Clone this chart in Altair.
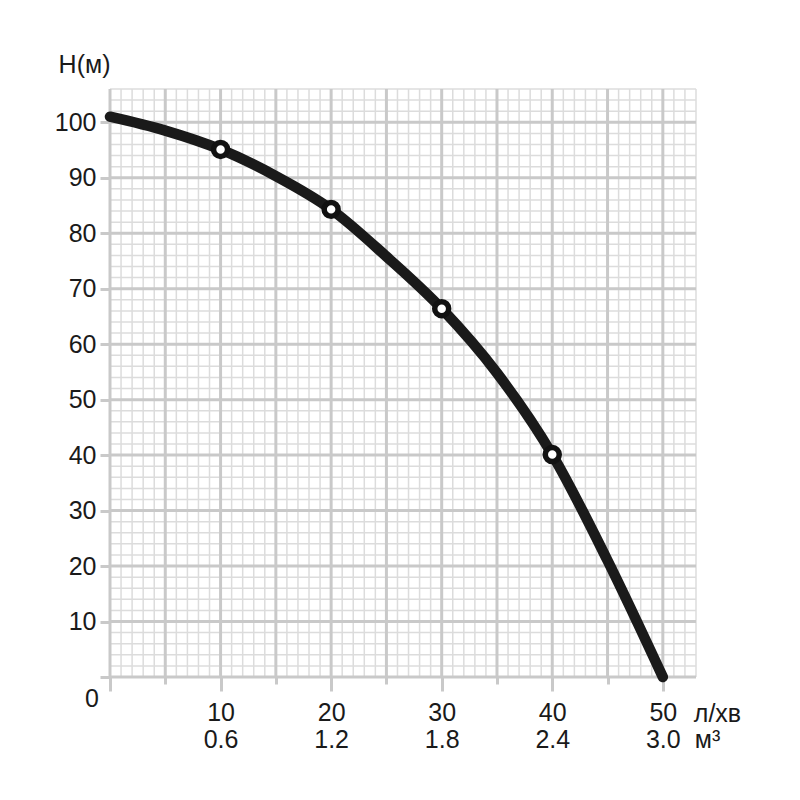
import altair as alt
import pandas as pd

# ---- data ----
flow = [0, 5, 10, 15, 20, 25, 30, 35, 40, 45, 50]          # л/хв
head = [101.0, 98.5, 95.1, 90.3, 84.3, 75.8, 66.4, 54.8, 40.1, 21.0, 0.0]  # H (м)
pt_flow = [10, 20, 30, 40]
pt_head = [95.1, 84.3, 66.4, 40.1]

x_ticks = [0, 5, 10, 15, 20, 25, 30, 35, 40, 45, 50]
y_ticks = [0, 10, 20, 30, 40, 50, 60, 70, 80, 90, 100]
lpm_labels = ["10", "20", "30", "40", "50"]
m3_labels = ["0.6", "1.2", "1.8", "2.4", "3.0"]
minor_x = list(range(0, 54))
minor_y = list(range(0, 107, 2))
x_max = 53
y_max = 106

FONT = "Liberation Sans"
FS = 25
TXT = "#1a1a1a"
MAJOR = "#c9c9c9"
MINOR = "#dcdcdc"

xs = alt.Scale(domain=[0, x_max], nice=False, zero=False)
ys = alt.Scale(domain=[0, y_max], nice=False, zero=False)

curve_df = pd.DataFrame({"q": flow, "h": head})
pts_df = pd.DataFrame({"q": pt_flow, "h": pt_head})

parts = []
for a, b in zip(lpm_labels, m3_labels):
    parts.append(f"datum.value == {a} ? ['{a}', '{b}']")
x_label_expr = " : ".join(parts) + " : ''"

x_axis = alt.Axis(
    values=x_ticks, grid=False, domain=False, title=None,
    tickColor=MAJOR, tickWidth=3,
    tickSize={"condition": {"test": "datum.value % 10 === 0", "value": 14}, "value": 7},
    labelExpr=x_label_expr, labelFont=FONT, labelFontSize=FS, labelColor=TXT,
    labelLineHeight=27, labelBaseline="top", labelPadding=9, labelFlush=False,
    labelOverlap=False,
)
y_axis = alt.Axis(
    values=y_ticks, grid=False, domain=False,
    title="H(м)", titleAngle=0, titleAlign="right", titleBaseline="alphabetic",
    titleX=0, titleY=-17, titleFont=FONT, titleFontSize=FS, titleFontWeight="normal",
    titleColor=TXT,
    tickColor=MAJOR, tickWidth=3, tickSize=10,
    labelExpr="datum.value == 0 ? '' : datum.label",
    labelFont=FONT, labelFontSize=FS, labelColor=TXT, labelPadding=4,
)

X = lambda: alt.X("q:Q", scale=xs, axis=x_axis)
Y = lambda: alt.Y("h:Q", scale=ys, axis=y_axis)

minor_x_layer = alt.Chart(pd.DataFrame({"q": minor_x})).mark_rule(
    color=MINOR, strokeWidth=1.5
).encode(x=X())

minor_y_layer = alt.Chart(pd.DataFrame({"h": minor_y})).mark_rule(
    color=MINOR, strokeWidth=1.5
).encode(y=Y())

major_x_layer = alt.Chart(pd.DataFrame({"q": x_ticks})).mark_rule(
    color=MAJOR, strokeWidth=3
).encode(x=X())

major_y_layer = alt.Chart(pd.DataFrame({"h": y_ticks})).mark_rule(
    color=MAJOR, strokeWidth=3
).encode(y=Y())

curve = alt.Chart(curve_df).mark_line(
    color=TXT, strokeWidth=10.5, interpolate="monotone", strokeCap="round"
).encode(x=X(), y=Y())

points = alt.Chart(pts_df).mark_point(
    shape="circle", filled=False, fill="white", fillOpacity=1, stroke="#111111",
    strokeWidth=5.5, size=195, opacity=1
).encode(x=X(), y=Y())

zero_df = pd.DataFrame({"q": [0], "h": [0], "t": ["0"]})
zero_text = alt.Chart(zero_df).mark_text(
    font=FONT, fontSize=FS, color=TXT, align="center", baseline="middle",
    dx=-18, dy=22
).encode(x=X(), y=Y(), text="t:N")

unit_df = pd.DataFrame({"q": [50], "h": [0], "t": ["л/хв"]})
unit_text1 = alt.Chart(unit_df).mark_text(
    font=FONT, fontSize=FS, color=TXT, align="left", baseline="middle",
    dx=31, dy=37
).encode(x=X(), y=Y(), text="t:N")

unit_df2 = pd.DataFrame({"q": [50], "h": [0], "t": ["м³"]})
unit_text2 = alt.Chart(unit_df2).mark_text(
    font=FONT, fontSize=FS, color=TXT, align="left", baseline="middle",
    dx=32, dy=63
).encode(x=X(), y=Y(), text="t:N")

chart = alt.layer(
    minor_x_layer, minor_y_layer, major_x_layer, major_y_layer,
    curve, points, zero_text, unit_text1, unit_text2
).properties(
    width=586, height=588,
    autosize=alt.AutoSizeParams(type="none"),
    padding={"left": 102, "top": 81, "right": 96, "bottom": 115},
    background="white",
).configure_view(stroke=None)

chart.save("out.html", embed_options={"renderer": "svg", "actions": False})
